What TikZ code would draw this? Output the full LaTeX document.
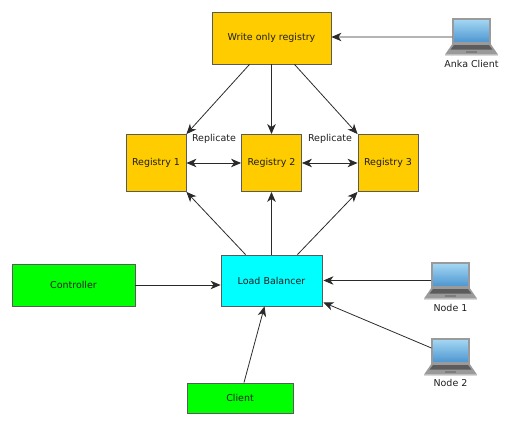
\documentclass[tikz,border=0pt]{standalone}
\usepackage{fontspec}
\setmainfont{DejaVu Sans}
\usetikzlibrary{arrows.meta, positioning, calc}
\definecolor{regyellow}{HTML}{FFCC00}
\definecolor{lbcyan}{HTML}{00FFFF}
\definecolor{ctlgreen}{HTML}{00FF00}
\definecolor{edgegray}{HTML}{5A5A5A}
\definecolor{lnblack}{HTML}{2A2A2A}
\definecolor{txtdark}{HTML}{1E1E1E}
\definecolor{scrblue}{HTML}{4A94D0}
\definecolor{scrlight}{HTML}{A6D8F4}
\definecolor{lapgray}{HTML}{9A9A9A}
\definecolor{lapdark}{HTML}{5C5C5C}

\tikzset{
  pics/laptopbase/.style={code={
    \fill[lapgray] (-0.53,-0.22) -- (-0.38,0) -- (0.38,0) -- (0.53,-0.22) -- cycle;
    \fill[lapdark] (-0.42,-0.12) -- (-0.35,-0.03) -- (0.35,-0.03) -- (0.42,-0.12) -- cycle;
    \fill[lapdark!80] (-0.11,-0.19) rectangle (0.11,-0.14);
    \fill[black!15] (-0.53,-0.22) rectangle (0.53,-0.25);
  }},
}

\begin{document}
\begin{tikzpicture}[
  box/.style={draw=edgegray, line width=0.5pt, inner sep=0pt, text=txtdark, font=\fontsize{5.4}{6.4}\selectfont},
  regbox/.style={box, fill=regyellow, minimum width=1.2cm, minimum height=1.14cm},
  greenbox/.style={box, fill=ctlgreen},
  screen/.style={draw=lapgray, line width=0.7pt, inner sep=0pt, top color=scrlight, bottom color=scrblue,
    minimum width=0.74cm, minimum height=0.48cm},
  caption/.style={text=txtdark, font=\fontsize{5.4}{6.4}\selectfont, inner sep=0pt},
  >={Stealth[length=2mm, width=1.7mm, inset=0.6mm]},
  link/.style={draw=lnblack, line width=0.45pt, ->},
]

\useasboundingbox (0,0) rectangle (10.24,8.5);

% Write registry and the three registries
\node[box, fill=regyellow, minimum width=2.38cm, minimum height=1.04cm] (wreg) at (5.43,7.74) {Write only registry};
\node[regbox] (reg1) at (3.12,5.24) {Registry 1};
\node[regbox] (reg2) at (5.43,5.24) {Registry 2};
\node[regbox] (reg3) at (7.76,5.24) {Registry 3};

% Lower boxes
\node[box, fill=lbcyan, minimum width=2.02cm, minimum height=1.02cm] (lb) at (5.43,2.89) {Load Balancer};
\node[greenbox, minimum width=2.46cm, minimum height=0.84cm] (ctl) at (1.47,2.80) {Controller};
\node[greenbox, minimum width=2.12cm, minimum height=0.6cm] (client) at (4.80,0.54) {Client};

% Laptops
\node[screen] (anka) at (9.43,7.88) {};
\pic at (anka.south) {laptopbase};
\node[caption] (ankatxt) at (9.43,7.22) {Anka Client};
\node[screen] (node1) at (9.01,3.00) {};
\pic at (node1.south) {laptopbase};
\node[caption] (node1txt) at (9.01,2.34) {Node 1};
\node[screen] (node2) at (9.01,1.48) {};
\pic at (node2.south) {laptopbase};
\node[caption] (node2txt) at (9.01,0.84) {Node 2};

% Replicate labels
\node[caption] (rep1) at (4.28,5.72) {Replicate};
\node[caption] (rep2) at (6.60,5.72) {Replicate};

% Write registry to registries
\draw[link] ([xshift=-0.44cm]wreg.south) -- (reg1.north east);
\draw[link] (wreg.south) -- (reg2.north);
\draw[link] ([xshift=0.46cm]wreg.south) -- (reg3.north west);
\draw[link] ([yshift=-0.12cm]anka.west) -- ([yshift=0.02cm]wreg.east);

% Replication
\draw[link, <->] (reg1) -- (reg2);
\draw[link, <->] (reg2) -- (reg3);

% Load balancer to registries
\draw[link] ([xshift=-0.52cm]lb.north) -- (reg1.south east);
\draw[link] (lb.north) -- (reg2.south);
\draw[link] ([xshift=0.52cm]lb.north) -- (reg3.south west);

% Into the load balancer
\draw[link] (ctl.east) -- (lb.west |- ctl.east);
\draw[link] ([xshift=0.08cm]client.north) -- ([xshift=-0.14cm]lb.south);
\draw[link] (node1.west |- lb.east) -- ([xshift=0.02cm]lb.east);
\draw[link] ([yshift=0.06cm]node2.west) -- ([xshift=0.02cm,yshift=0.08cm]lb.south east);

\end{tikzpicture}
\end{document}
